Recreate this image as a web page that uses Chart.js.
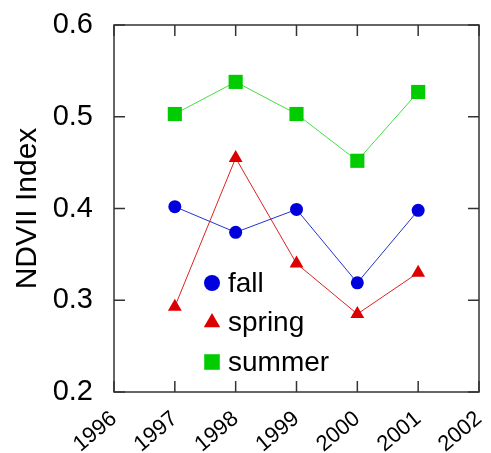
<!DOCTYPE html>
<html>
<head>
	<script src="https://cdn.jsdelivr.net/npm/chart.js@4.4.0/dist/chart.umd.min.js"></script>
	<style>
		body { margin: 0; background: #fff; }
		#wrapper { width: 491px; height: 453px; }
	</style>
</head>
<body>
	<div id="wrapper"><canvas id="myChart" width="491" height="453"></canvas></div>
	<script>
// values
var years = [1997, 1998, 1999, 2000, 2001];
var fall = [0.402, 0.374, 0.399, 0.319, 0.398];
var spring = [0.293, 0.455, 0.340, 0.285, 0.330];
var summer = [0.503, 0.538, 0.503, 0.452, 0.527];
var xTicks = [1996, 1997, 1998, 1999, 2000, 2001, 2002];
var yTicks = [0.2, 0.3, 0.4, 0.5, 0.6];

function pts(vals){
	return years.map(function(y, i){ return {x: y, y: vals[i]}; });
}

// box round the plot and ticks pointing inward on all four sides
var boxPlugin = {
	id: 'box',
	afterDatasetsDraw: function(chart){
		var ctx = chart.ctx, a = chart.chartArea;
		var xs = chart.scales.x, ys = chart.scales.y;
		ctx.save();
		ctx.strokeStyle = '#333';
		ctx.lineWidth = 1.5;
		ctx.strokeRect(a.left, a.top, a.right - a.left, a.bottom - a.top);
		ctx.beginPath();
		xTicks.forEach(function(t){
			var px = xs.getPixelForValue(t);
			ctx.moveTo(px, a.bottom); ctx.lineTo(px, a.bottom - 11);
			ctx.moveTo(px, a.top); ctx.lineTo(px, a.top + 11);
		});
		yTicks.forEach(function(t){
			var py = ys.getPixelForValue(t);
			ctx.moveTo(a.left, py); ctx.lineTo(a.left + 11, py);
			ctx.moveTo(a.right, py); ctx.lineTo(a.right - 11, py);
		});
		ctx.stroke();
		ctx.restore();
	}
};

// legend drawn inside the plot, lower left
var innerLegend = {
	id: 'innerLegend',
	afterDatasetsDraw: function(chart){
		var ctx = chart.ctx, a = chart.chartArea;
		var x0 = a.left + 98, y0 = a.top + 258;
		ctx.save();
		ctx.font = '28px Arial, "Liberation Sans", sans-serif';
		ctx.textBaseline = 'middle';
		chart.data.datasets.forEach(function(ds, i){
			var y = y0 + i * 39.5;
			ctx.fillStyle = ds.pointBackgroundColor;
			ctx.strokeStyle = ds.pointBackgroundColor;
			Chart.helpers.drawPoint(ctx, {pointStyle: ds.pointStyle, radius: ds.legendRadius, rotation: 0, borderWidth: 0}, x0, y);
			ctx.fillStyle = '#000';
			ctx.fillText(ds.label, x0 + 16, y + 1);
		});
		ctx.restore();
	}
};

var ctx = document.getElementById('myChart');
var myChart = new Chart(ctx, {
	type: 'line',
	data: {
		datasets: [
			{ label: 'fall', data: pts(fall), borderColor: '#2233cc', borderWidth: 1,
			  pointStyle: 'circle', pointRadius: 6.5, legendRadius: 8,
			  pointBackgroundColor: '#0000dd', pointBorderWidth: 0 },
			{ label: 'spring', data: pts(spring), borderColor: '#dd2222', borderWidth: 1,
			  pointStyle: 'triangle', pointRadius: 8, legendRadius: 9.5,
			  pointBackgroundColor: '#dd0000', pointBorderWidth: 0 },
			{ label: 'summer', data: pts(summer), borderColor: '#44dd44', borderWidth: 1,
			  pointStyle: 'rect', pointRadius: 10, legendRadius: 11,
			  pointBackgroundColor: '#00cc00', pointBorderWidth: 0 }
		]
	},
	options: {
		responsive: false,
		animation: false,
		layout: { padding: { left: 10, top: 25, right: 12, bottom: 0 } },
		plugins: { legend: { display: false }, tooltip: { enabled: false } },
		scales: {
			x: {
				type: 'linear', min: 1996, max: 2002,
				afterBuildTicks: function(s){ s.ticks = xTicks.map(function(v){ return {value: v}; }); },
				afterFit: function(s){ s.height = 61; s.paddingLeft = 0; s.paddingRight = 0; },
				grid: { display: false },
				border: { display: false },
				ticks: {
					color: '#000', padding: 6, autoSkip: false,
					minRotation: 40, maxRotation: 40,
					font: { family: 'Arial, "Liberation Sans", sans-serif', size: 22 },
					callback: function(v){ return String(v); }
				}
			},
			y: {
				min: 0.2, max: 0.6,
				afterBuildTicks: function(s){ s.ticks = yTicks.map(function(v){ return {value: v}; }); },
				afterFit: function(s){ s.width = 104; s.paddingTop = 0; s.paddingBottom = 0; },
				grid: { display: false },
				border: { display: false },
				title: {
					display: true, text: 'NDVII Index', color: '#000', padding: 0,
					font: { family: 'Arial, "Liberation Sans", sans-serif', size: 30 }
				},
				ticks: {
					color: '#000', padding: 13,
					font: { family: 'Arial, "Liberation Sans", sans-serif', size: 29 },
					callback: function(v){ return v.toFixed(1); }
				}
			}
		}
	},
	plugins: [boxPlugin, innerLegend]
});
	</script>
</body>
</html>
